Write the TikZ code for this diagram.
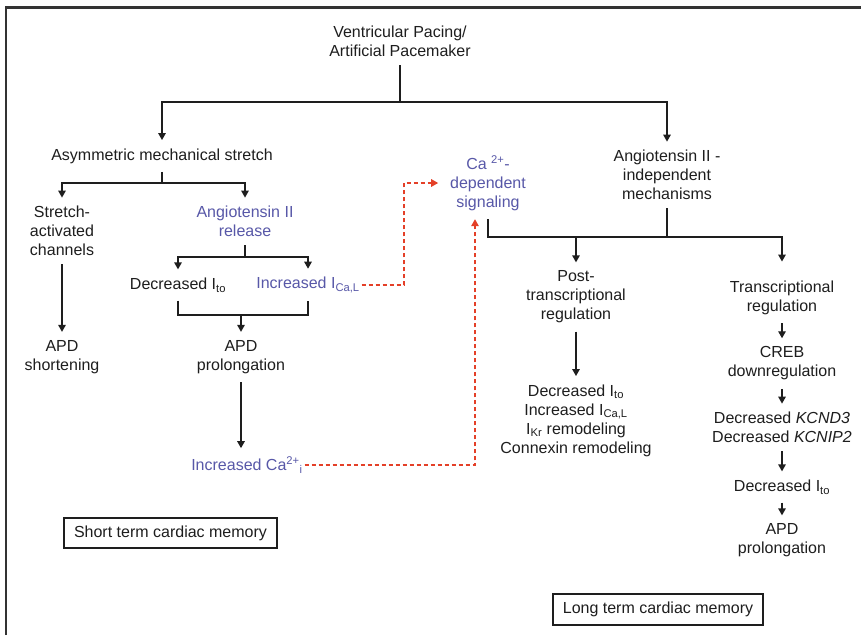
\documentclass[tikz,border=0pt]{standalone}
\usepackage{fontspec}
\setmainfont{Liberation Sans}
\usetikzlibrary{arrows.meta}
\definecolor{txt}{RGB}{30,30,30}
\definecolor{angblue}{RGB}{88,88,168}
\definecolor{dashred}{RGB}{228,64,40}
\begin{document}
\begin{tikzpicture}[x=1pt,y=-1pt,>={Triangle[length=7pt,width=7.5pt]},
  font=\fontsize{16}{19}\selectfont,
  lbl/.style={align=center,inner sep=0pt,outer xsep=2pt,outer ysep=8.5pt,text=txt},
  blu/.style={lbl,text=angblue},
  conn/.style={line width=1.4pt,draw=txt},
  cadash/.style={line width=1.4pt,draw=dashred,dash pattern=on 4pt off 3pt},
  memo/.style={draw=txt,line width=1.4pt,minimum width=213pt,minimum height=30pt,inner sep=0pt,text=txt}]
  \fill[white] (0,0) rectangle (861,635);
  \useasboundingbox (0,0) rectangle (861,635);
  \draw[line width=2.8pt,draw=black!80] (6,635) -- (6,7.7) -- (861,7.7);

  \node[lbl] (pace) at (400,41.5) {Ventricular Pacing/\\Artificial Pacemaker};
  \node[lbl] (asym) at (162,156) {Asymmetric mechanical stretch};
  \node[lbl] (sac) at (62,231) {Stretch-\\activated\\channels};
  \node[blu] (ang) at (245,221.5) {Angiotensin II\\release};
  \node[lbl] (dito) at (178,285) {Decreased I\textsubscript{to}};
  \node[blu] (ical) at (308,285) {Increased I\textsubscript{Ca,L}};
  \node[lbl] (short) at (62,357) {APD\\shortening};
  \node[lbl] (prol) at (241,357) {APD\\prolongation};
  \node[blu] (cai) at (247,465) {Increased Ca\textsuperscript{2+}\textsubscript{i}};
  \node[blu] (casig) at (488,183) {Ca \textsuperscript{2+}-\\dependent\\signaling};
  \node[lbl] (indep) at (667,175) {Angiotensin II -\\independent\\mechanisms};
  \node[lbl] (post) at (576,297) {Post-\\transcriptional\\regulation};
  \node[lbl] (trans) at (782,298) {Transcriptional\\regulation};
  \node[lbl] (ltchan) at (576,420.5) {Decreased I\textsubscript{to}\\Increased I\textsubscript{Ca,L}\\I\textsubscript{Kr} remodeling\\Connexin remodeling};
  \node[lbl] (creb) at (782,363.5) {CREB\\downregulation};
  \node[lbl] (kcn) at (782,427.5) {Decreased \textit{KCND3}\\Decreased \textit{KCNIP2}};
  \node[lbl] (dito2) at (782,487) {Decreased I\textsubscript{to}};
  \node[lbl] (prol2) at (782,540.5) {APD\\prolongation};
  \node[memo] (stm) at (170.5,533) {Short term cardiac memory};
  \node[memo,minimum width=210pt,minimum height=31pt] (ltm) at (658,609.5) {Long term cardiac memory};

  \coordinate (j1) at (400,102);
  \coordinate (j2) at (162,183);
  \coordinate (j3) at (245,257);
  \coordinate (j4) at (241,315);
  \coordinate (j5) at (667,237);
  \coordinate (r1) at (404,183);
  \coordinate (r2) at (475,0);

  \draw[conn] (pace) -- (j1);
  \draw[conn,->] (j1) -| (asym);
  \draw[conn,->] (j1) -| (indep);
  \draw[conn] (asym) -- (j2);
  \draw[conn,->] (j2) -| (sac);
  \draw[conn,->] (j2) -| (ang);
  \draw[conn,->] (sac) -- (short);
  \draw[conn] (ang) -- (j3);
  \draw[conn,->] (j3) -| (dito);
  \draw[conn,->] (j3) -| (ical);
  \draw[conn] (dito) |- (j4) -| (ical);
  \draw[conn,->] (j4) -- (prol);
  \draw[conn,->] (prol) -- (prol |- cai.north);
  \draw[conn] (casig.south) |- (j5);
  \draw[conn] (indep) -- (j5);
  \draw[conn,->] (j5) -| ([yshift=11pt]trans.north);
  \draw[conn,->] (j5 -| post) -- (post);
  \draw[conn,->] (post) -- (ltchan);
  \draw[conn,->] (trans) -- (creb);
  \draw[conn,->] (creb) -- (kcn);
  \draw[conn,->] (kcn) -- (dito2);
  \draw[conn,->] (dito2) -- (prol2);

  \draw[cadash,->] (ical.east) -| (r1) -- ([xshift=-10pt]casig.west);
  \draw[cadash,->] (cai.east) -| (r2 |- casig.south);
\end{tikzpicture}
\end{document}
